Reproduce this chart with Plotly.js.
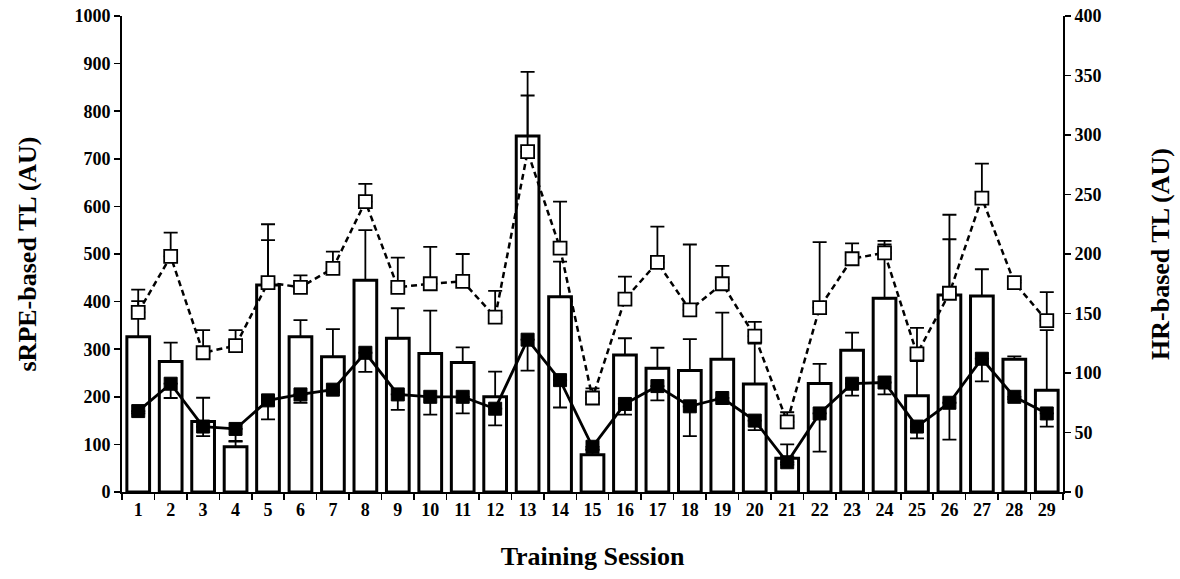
<!DOCTYPE html>
<html>
<head>
<meta charset="utf-8">
<script src="https://cdn.plot.ly/plotly-3.0.1.min.js"></script>
<style>html,body{margin:0;padding:0;background:#fff;}#chart{width:1180px;height:579px;}</style>
</head>
<body>
<div id="chart"></div>
<script>
// Training sessions
const sessions = ['1','2','3','4','5','6','7','8','9','10','11','12','13','14','15','16','17','18','19','20','21','22','23','24','25','26','27','28','29'];

// sRPE-based TL (bars, left axis) and SD
const srpeTL = [326,274,148,95,435,326,284,445,323,291,272,200,748,410,78,288,260,255,279,227,71,228,298,407,202,414,412,279,214];
const srpeSD = [75,40,50,11,94,35,58,105,63,90,32,53,85,74,10,35,43,66,98,85,29,41,37,113,73,117,56,6,126];

// HR-based TL, open squares (dashed line, right axis) and SD
const hrOpen = [151,198,117,123,176,172,188,244,172,175,177,147,286,205,79,162,193,153,175,131,59,155,196,201,116,167,247,176,144];
const hrOpenSD = [19,20,19,13,49,10,14,15,25,31,23,22,67,39,8,19,30,55,15,12,8,55,13,10,22,66,29,2,24];

// HR-based TL, filled squares (solid line, right axis) and SD
const hrFilled = [68,91,55,53,77,82,86,117,82,80,80,70,128,94,38,74,89,72,79,60,25,66,91,92,55,75,112,80,66];
const hrFilledSD = [2,12,8,10,16,7,2,16,13,15,14,14,26,23,2,9,12,25,2,8,2,32,10,10,10,31,19,2,11];

const serif = 'Liberation Serif, Times New Roman, serif';

const traces = [
  {
    type: 'bar', x: sessions, y: srpeTL, yaxis: 'y', width: 0.7,
    marker: {color: '#ffffff', line: {color: '#000000', width: 3}},
    error_y: {type: 'data', array: srpeSD, symmetric: false, arrayminus: srpeTL.map(() => 0), color: '#000', thickness: 1.8, width: 7},
    showlegend: false, hoverinfo: 'y'
  },
  {
    type: 'scatter', mode: 'lines+markers', x: sessions, y: hrOpen, yaxis: 'y2',
    line: {color: '#000', width: 2.5, dash: '6px,4px'},
    marker: {symbol: 'square', size: 13, color: '#ffffff', line: {color: '#000', width: 1.8}},
    error_y: {type: 'data', array: hrOpenSD, symmetric: false, arrayminus: hrOpen.map(() => 0), color: '#000', thickness: 1.8, width: 7},
    showlegend: false
  },
  {
    type: 'scatter', mode: 'lines+markers', x: sessions, y: hrFilled, yaxis: 'y2',
    line: {color: '#000', width: 2.8},
    marker: {symbol: 'square', size: 13, color: '#000000', line: {color: '#000', width: 1}},
    error_y: {type: 'data', array: hrFilled.map(() => 0), symmetric: false, arrayminus: hrFilledSD, color: '#000', thickness: 1.8, width: 7},
    showlegend: false
  }
];

const layout = {
  width: 1180, height: 579,
  margin: {l: 122, r: 117, t: 16, b: 87},
  paper_bgcolor: '#fff', plot_bgcolor: '#fff',
  font: {family: serif, color: '#000', size: 18},
  xaxis: {
    type: 'category', range: [-0.5, 28.5],
    showline: true, linecolor: '#000', linewidth: 2,
    ticks: 'outside', tickson: 'boundaries', ticklen: 6, tickwidth: 1.5, tickcolor: '#000',
    showgrid: false, zeroline: false,
    tickfont: {family: serif, size: 18, color: '#000', weight: 'bold'},
    title: {text: '<b>Training Session</b>', font: {family: serif, size: 26, color: '#000'}, standoff: 28}
  },
  yaxis: {
    range: [0, 1000], dtick: 100,
    showline: true, linecolor: '#000', linewidth: 2,
    ticks: 'outside', ticklen: 6, tickwidth: 1.5, tickcolor: '#000',
    showgrid: false, zeroline: false,
    tickfont: {family: serif, size: 18, color: '#000', weight: 'bold'},
    title: {text: '<b>sRPE-based TL (AU)</b>', font: {family: serif, size: 26, color: '#000'}, standoff: 30}
  },
  yaxis2: {
    overlaying: 'y', side: 'right', range: [0, 400], dtick: 50,
    showline: true, linecolor: '#000', linewidth: 2,
    ticks: 'outside', ticklen: 6, tickwidth: 1.5, tickcolor: '#000',
    showgrid: false, zeroline: false,
    tickfont: {family: serif, size: 18, color: '#000', weight: 'bold'},
    title: {text: '<b>HR-based TL (AU)</b>', font: {family: serif, size: 26, color: '#000'}, standoff: 50}
  }
};

Plotly.newPlot('chart', traces, layout, {displayModeBar: false, staticPlot: true});
</script>
</body>
</html>
